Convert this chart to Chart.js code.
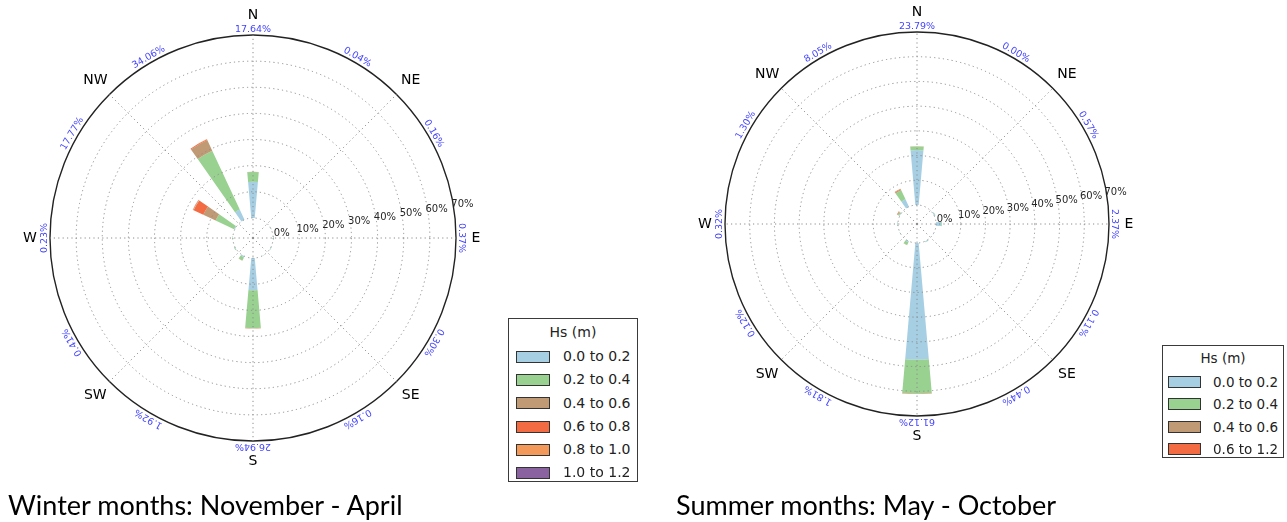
<!DOCTYPE html>
<html>
<head>
<meta charset="utf-8">
<script src="https://cdn.jsdelivr.net/npm/chart.js@4.4.0/dist/chart.umd.min.js"></script>
<style>
	body { margin: 0; width: 1287px; height: 522px; background: #fff; position: relative; overflow: hidden; }
	canvas { position: absolute; top: 0; }
	.hs-legend { position: absolute; box-sizing: border-box; border: 1px solid #3a3a3a; background: #fff; font-family: 'DejaVu Sans', sans-serif; color: #222; }
	.hs-legend .title { text-align: center; }
	.hs-legend .row { position: relative; }
	.hs-legend .swatch { position: absolute; box-sizing: border-box; border: 1px solid #333; }
	.hs-legend .label { position: absolute; white-space: nowrap; }
	.caption { position: absolute; font-family: Lato, sans-serif; font-size: 27px; line-height: 32px; color: #000; white-space: nowrap; }
</style>
</head>
<body>
<canvas id="winter-rose" width="643" height="522" style="left:0"></canvas>
<canvas id="summer-rose" width="644" height="522" style="left:643px"></canvas>
<div class="hs-legend" id="winter-legend"></div>
<div class="hs-legend" id="summer-legend"></div>
<div class="caption" style="left:8px;top:489px">Winter months: November - April</div>
<div class="caption" style="left:676px;top:489px">Summer months: May - October</div>
<script>
// directions of the 12 sectors (degrees, clockwise from N)
const sectorAngles = [ 0, 30, 60, 90, 120, 150, 180, 210, 240, 270, 300, 330 ];
const compassLabels = [ 'N', 'NE', 'E', 'SE', 'S', 'SW', 'W', 'NW' ];
const radialTicks = [ 0, 10, 20, 30, 40, 50, 60, 70 ];

// winter: November - April (% per sector, per Hs class)
const winterClasses = [ '0.0 to 0.2', '0.2 to 0.4', '0.4 to 0.6', '0.6 to 0.8', '0.8 to 1.0', '1.0 to 1.2' ];
const winterHs00 = [ 13.8, 0.04, 0.1, 0.25, 0.2, 0.1, 12.3, 0.5, 0.2, 0.08, 0.3, 4.3 ];
const winterHs02 = [ 3.8, 0, 0.06, 0.12, 0.1, 0.06, 14.5, 1.3, 0.21, 0.15, 7.8, 24.9 ];
const winterHs04 = [ 0.04, 0, 0, 0, 0, 0, 0.1, 0.12, 0, 0, 5.2, 4.5 ];
const winterHs06 = [ 0, 0, 0, 0, 0, 0, 0.03, 0, 0, 0, 4.1, 0.3 ];
const winterHs08 = [ 0, 0, 0, 0, 0, 0, 0.01, 0, 0, 0, 0.3, 0.06 ];
const winterHs10 = [ 0, 0, 0, 0, 0, 0, 0, 0, 0, 0, 0.07, 0 ];
const winterTotals = [ 17.64, 0.04, 0.16, 0.37, 0.3, 0.16, 26.94, 1.92, 0.41, 0.23, 17.77, 34.06 ];

// summer: May - October
const summerClasses = [ '0.0 to 0.2', '0.2 to 0.4', '0.4 to 0.6', '0.6 to 1.2' ];
const summerHs00 = [ 22.2, 0, 0.45, 2.1, 0.11, 0.35, 47.2, 0.5, 0.12, 0.2, 0.3, 3.3 ];
const summerHs02 = [ 1.5, 0, 0.12, 0.27, 0, 0.09, 13.8, 1.2, 0, 0.12, 0.5, 4.1 ];
const summerHs04 = [ 0.09, 0, 0, 0, 0, 0, 0.08, 0.11, 0, 0, 0.3, 0.45 ];
const summerHs06 = [ 0, 0, 0, 0, 0, 0, 0.04, 0, 0, 0, 0.2, 0.2 ];
const summerTotals = [ 23.79, 0, 0.57, 2.37, 0.11, 0.44, 61.12, 1.81, 0.12, 0.32, 1.3, 8.05 ];

const hsColors = [ '#a6cfe4', '#98d190', '#c09a74', '#f26b43', '#f3995a', '#8b62a0' ];

document.addEventListener( 'DOMContentLoaded', function () {
	const toRad = ( deg ) => ( deg * Math.PI ) / 180;

	// stacked wedges + text around the rose, placed with the r scale
	const makeRosePlugin = ( series, totals ) => ( {
		id: 'roseBars',
		beforeDraw( chart ) {
			const scale = chart.scales.r;
			const ctx = chart.ctx;
			const half = toRad( 5 );
			ctx.save();
			sectorAngles.forEach( ( deg, s ) => {
				const a = toRad( deg ) - Math.PI / 2;
				let cum = 0;
				series.forEach( ( values, c ) => {
					const v = values[ s ];
					if ( ! v ) {
						return;
					}
					const r0 = scale.getDistanceFromCenterForValue( cum );
					const r1 = scale.getDistanceFromCenterForValue( cum + v );
					cum += v;
					ctx.beginPath();
					ctx.arc( scale.xCenter, scale.yCenter, r1, a - half, a + half );
					ctx.arc( scale.xCenter, scale.yCenter, r0, a + half, a - half, true );
					ctx.closePath();
					ctx.fillStyle = hsColors[ c ];
					ctx.fill();
				} );
			} );
			ctx.restore();
		},
		afterDraw( chart ) {
			const scale = chart.scales.r;
			const ctx = chart.ctx;
			const cx = scale.xCenter,
				cy = scale.yCenter,
				R = scale.drawingArea;
			ctx.save();
			ctx.textAlign = 'center';
			ctx.textBaseline = 'middle';
			// radial tick labels
			ctx.font = '10px "DejaVu Sans"';
			ctx.fillStyle = '#262626';
			const la = toRad( 9 );
			radialTicks.forEach( ( t ) => {
				const r = scale.getDistanceFromCenterForValue( t ) + 9;
				ctx.fillText( t + '%', cx + r * Math.cos( la ), cy - r * Math.sin( la ) );
			} );
			// compass labels
			ctx.font = '14px "DejaVu Sans"';
			ctx.fillStyle = '#000';
			compassLabels.forEach( ( lbl, i ) => {
				const a = toRad( i * 45 );
				ctx.fillText( lbl, cx + ( R + 20 ) * Math.sin( a ), cy - ( R + 20 ) * Math.cos( a ) );
			} );
			// sector totals, along the rim
			ctx.font = '9.5px "DejaVu Sans"';
			ctx.fillStyle = '#4444ff';
			ctx.textBaseline = 'bottom';
			sectorAngles.forEach( ( deg, s ) => {
				ctx.save();
				ctx.translate( cx, cy );
				ctx.rotate( toRad( deg ) );
				ctx.fillText( totals[ s ].toFixed( 2 ) + '%', 0, -( R + 1 ) );
				ctx.restore();
			} );
			ctx.restore();
		},
	} );

	const buildRose = ( canvasId, padding, series, totals ) => {
		return new Chart( document.getElementById( canvasId ), {
			type: 'radar',
			data: { labels: compassLabels, datasets: [] },
			options: {
				responsive: false,
				animation: false,
				events: [],
				layout: { padding: padding },
				plugins: {
					legend: { display: false },
					tooltip: { enabled: false },
				},
				scales: {
					r: {
						min: -7.7,
						max: 70,
						startAngle: 0,
						afterBuildTicks: ( axis ) => {
							axis.ticks = radialTicks.map( ( v ) => ( { value: v } ) );
						},
						ticks: { display: false },
						pointLabels: { display: false },
						grid: {
							circular: true,
							color: ( c ) => ( c.tick && c.tick.value === 70 ? '#222' : '#8c8c8c' ),
							lineWidth: ( c ) => ( c.tick && c.tick.value === 70 ? 1.4 : 1 ),
						},
						border: {
							dash: ( c ) => ( c.tick && c.tick.value === 70 ? [] : [ 1.2, 3.2 ] ),
						},
						angleLines: {
							color: '#8c8c8c',
							lineWidth: 1,
							borderDash: [ 1.2, 3.2 ],
						},
					},
				},
			},
			plugins: [ makeRosePlugin( series, totals ) ],
		} );
	};

	const buildLegend = ( el, classes, box ) => {
		el.style.left = box.left + 'px';
		el.style.top = box.top + 'px';
		el.style.width = box.width + 'px';
		el.style.height = box.height + 'px';
		el.style.fontSize = box.font + 'px';
		let html = `<div class="title" style="height:${ box.titleH }px;line-height:${ box.titleH }px">Hs (m)</div>`;
		classes.forEach( ( lbl, i ) => {
			html += `<div class="row" style="height:${ box.rowH }px">
				<span class="swatch" style="left:${ box.swatchX - 1 }px;top:${ ( box.rowH - 12 ) / 2 }px;width:${ box.swatchW }px;height:12px;background:${ hsColors[ i ] }"></span>
				<span class="label" style="left:${ box.textX - 1 }px;line-height:${ box.rowH }px">${ lbl }</span>
			</div>`;
		} );
		el.innerHTML = html;
	};

	buildRose(
		'winter-rose',
		{ left: 50, top: 35, right: 187, bottom: 81 },
		[ winterHs00, winterHs02, winterHs04, winterHs06, winterHs08, winterHs10 ],
		winterTotals
	);
	buildRose(
		'summer-rose',
		{ left: 82, top: 32, right: 178, bottom: 106 },
		[ summerHs00, summerHs02, summerHs04, summerHs06 ],
		summerTotals
	);
	buildLegend( document.getElementById( 'winter-legend' ), winterClasses, {
		left: 508, top: 318, width: 130, height: 164, font: 14,
		titleH: 26, rowH: 23.3, swatchX: 8, swatchW: 34, textX: 55,
	} );
	buildLegend( document.getElementById( 'summer-legend' ), summerClasses, {
		left: 1162, top: 345, width: 122, height: 113, font: 13.5,
		titleH: 25, rowH: 22.3, swatchX: 6, swatchW: 33, textX: 51,
	} );
} );
</script>
</body>
</html>
